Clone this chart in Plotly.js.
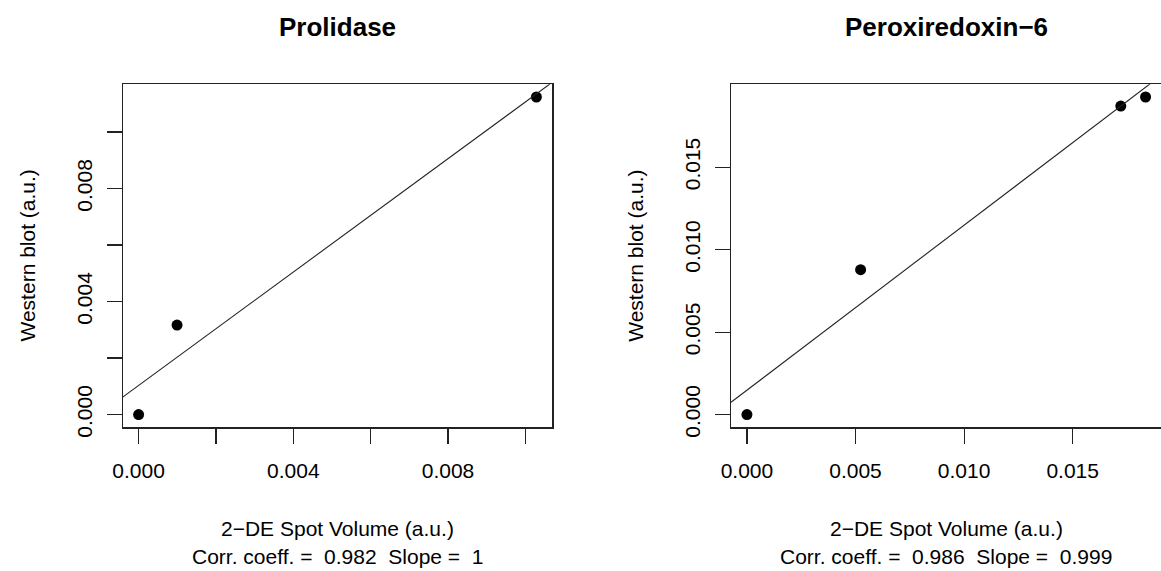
<!DOCTYPE html>
<html><head><meta charset="utf-8">
<script src="https://cdn.plot.ly/plotly-3.0.1.min.js"></script>
<style>html,body{margin:0;padding:0;background:#fff;overflow:hidden}#chart{width:1161px;height:571px}</style>
</head><body><div id="chart"></div>
<script>
// ---- data ----
const panelTitles = ['Prolidase', 'Peroxiredoxin\u22126'];
const xTitle = '2\u2212DE Spot Volume (a.u.)';
const yTitle = 'Western blot (a.u.)';
const statsText = ['Corr. coeff. =\u00a0 0.982\u00a0 Slope =\u00a0 1',
                   'Corr. coeff. =\u00a0 0.986\u00a0 Slope =\u00a0 0.999'];

const prolidaseSpot = [0, 0.000994, 0.010285];
const prolidaseWB   = [0, 0.00317, 0.011241];
const peroxSpot = [0, 0.005234, 0.017215, 0.018355];
const peroxWB   = [0, 0.008787, 0.0187, 0.01925];

const prolidaseTicks = [0, 0.002, 0.004, 0.006, 0.008, 0.010];
const prolidaseTickText = ['0.000', '', '0.004', '', '0.008', ''];
const peroxTicks = [0, 0.005, 0.010, 0.015];
const peroxTickText = ['0.000', '0.005', '0.010', '0.015'];

// ---- helpers ----
function extRange(v) { // R style 4% extension
  const mn = Math.min(...v), mx = Math.max(...v), d = (mx - mn) * 0.04;
  return [mn - d, mx + d];
}
function fit(x, y) {
  const n = x.length, mx = x.reduce((a,b)=>a+b,0)/n, my = y.reduce((a,b)=>a+b,0)/n;
  let sxy = 0, sxx = 0;
  for (let i = 0; i < n; i++) { sxy += (x[i]-mx)*(y[i]-my); sxx += (x[i]-mx)*(x[i]-mx); }
  const b = sxy / sxx; return {b: b, a: my - b*mx};
}
const W = 1161, H = 571;
const px = v => v / W, py = v => 1 - v / H;

const FONT = 'Liberation Sans, Arial, Helvetica, sans-serif';
const TICKFS = 21;

const xr1 = extRange(prolidaseSpot), yr1 = extRange(prolidaseWB);
const xr2 = extRange(peroxSpot), yr2 = extRange(peroxWB);
const f1 = fit(prolidaseSpot, prolidaseWB), f2 = fit(peroxSpot, peroxWB);

const traces = [
  {x: prolidaseSpot, y: prolidaseWB, xaxis: 'x', yaxis: 'y', mode: 'markers', type: 'scatter',
   marker: {color: '#000', size: 11}, cliponaxis: false},
  {x: xr1, y: xr1.map(v => f1.a + f1.b*v), xaxis: 'x', yaxis: 'y', mode: 'lines', type: 'scatter',
   line: {color: '#222', width: 1.1}},
  {x: peroxSpot, y: peroxWB, xaxis: 'x2', yaxis: 'y2', mode: 'markers', type: 'scatter',
   marker: {color: '#000', size: 11}, cliponaxis: false},
  {x: xr2, y: xr2.map(v => f2.a + f2.b*v), xaxis: 'x2', yaxis: 'y2', mode: 'lines', type: 'scatter',
   line: {color: '#222', width: 1.1}}
];

const box1 = {l: 122.7, r: 552.3, t: 84.3, b: 427.3};
const box2 = {l: 731, r: 1161.5, t: 84.3, b: 427.3};

function axisCommon(vals, text) {
  return {
    showgrid: false, zeroline: false, showline: true, mirror: true,
    linecolor: '#222', linewidth: 1.2, ticks: 'outside', ticklen: 15, tickwidth: 1.2, tickcolor: '#222',
    tickmode: 'array', tickvals: vals, ticktext: text,
    tickfont: {family: FONT, size: TICKFS, color: '#000'}, fixedrange: true
  };
}

const layout = {
  width: W, height: H, margin: {l: 0, r: 0, t: 0, b: 0},
  paper_bgcolor: '#fff', plot_bgcolor: '#fff', showlegend: false,
  xaxis: Object.assign(axisCommon(prolidaseTicks, prolidaseTickText),
    {domain: [px(box1.l), px(box1.r)], range: xr1, anchor: 'y', ticklabelstandoff: 9}),
  yaxis: Object.assign(axisCommon(prolidaseTicks, prolidaseTickText),
    {domain: [py(box1.b), py(box1.t)], range: yr1, anchor: 'x', tickangle: -90, ticklabelstandoff: 6}),
  xaxis2: Object.assign(axisCommon(peroxTicks, peroxTickText),
    {domain: [px(box2.l), Math.min(1, px(box2.r))], range: [xr2[0], xr2[0] + (xr2[1]-xr2[0]) * (1161 - box2.l) / (box2.r - box2.l)], anchor: 'y2', ticklabelstandoff: 9}),
  yaxis2: Object.assign(axisCommon(peroxTicks, peroxTickText),
    {domain: [py(box2.b), py(box2.t)], range: yr2, anchor: 'x2', tickangle: -90, ticklabelstandoff: 6}),
  annotations: []
};

const boxes = [box1, box2];
boxes.forEach((bx, i) => {
  const cx = (bx.l + bx.r) / 2;
  layout.annotations.push(
    {xref: 'paper', yref: 'paper', x: px(cx), y: py(27), text: '<b>' + panelTitles[i] + '</b>',
     showarrow: false, xanchor: 'center', yanchor: 'middle', font: {family: FONT, size: 26, color: '#000'}},
    {xref: 'paper', yref: 'paper', x: px(cx), y: py(528), text: xTitle,
     showarrow: false, xanchor: 'center', yanchor: 'middle', font: {family: FONT, size: TICKFS, color: '#000'}},
    {xref: 'paper', yref: 'paper', x: px(cx), y: py(556), text: statsText[i],
     showarrow: false, xanchor: 'center', yanchor: 'middle', font: {family: FONT, size: TICKFS, color: '#000'}},
    {xref: 'paper', yref: 'paper', x: px(bx.l - 95), y: py((bx.t + bx.b) / 2), text: yTitle, textangle: -90,
     showarrow: false, xanchor: 'center', yanchor: 'middle', font: {family: FONT, size: TICKFS, color: '#000'}}
  );
});

Plotly.newPlot('chart', traces, layout, {staticPlot: true, displayModeBar: false});
</script>
</body></html>
